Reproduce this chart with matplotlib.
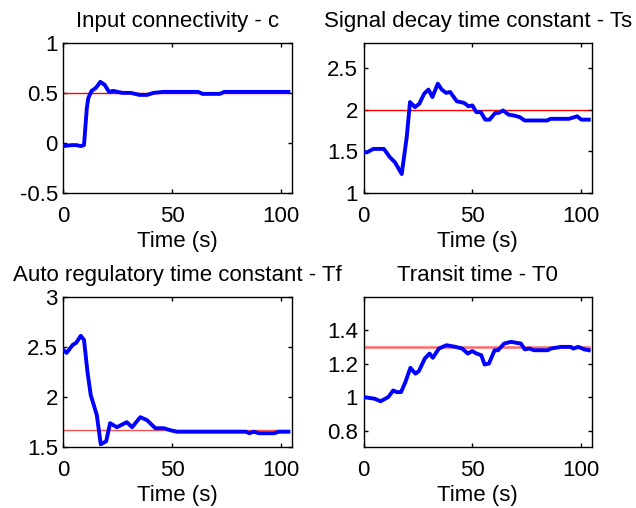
import matplotlib
matplotlib.use("Agg")
import matplotlib.pyplot as plt

plt.rcParams['font.family'] = ['Liberation Sans', 'DejaVu Sans']

# ---- data ----
t_c = [0, 4, 6, 8, 9.5, 10.8, 11.5, 13, 15, 17, 19, 21, 23, 27, 31, 35, 38.5, 41.5,
       46, 54, 62, 64, 72, 74, 80, 90, 103.5]
c_vals = [-0.03, -0.02, -0.02, -0.03, -0.02, 0.35, 0.45, 0.52, 0.55, 0.61, 0.58, 0.51,
          0.52, 0.50, 0.50, 0.48, 0.48, 0.50, 0.51, 0.51, 0.51, 0.49, 0.49, 0.51, 0.51,
          0.51, 0.51]
c_true = 0.5

t_ts = [0, 1.6, 4.4, 9.3, 12.1, 14.4, 17.5, 19.8, 21.3, 23.6, 25.6, 27.8, 29.8, 31.6,
        34.1, 35.9, 37.9, 39.8, 42.8, 46.2, 48.2, 50.0, 51.8, 53.9, 55.9, 57.9, 60.5,
        62, 64.1, 66.7, 69, 71.8, 74, 84.4, 85.9, 94.4, 98.2, 100.1, 103.5]
ts_vals = [1.49, 1.49, 1.53, 1.53, 1.43, 1.37, 1.23, 1.67, 2.09, 2.03, 2.07, 2.19, 2.24,
           2.15, 2.31, 2.24, 2.20, 2.21, 2.10, 2.08, 2.04, 2.05, 1.97, 1.97, 1.88, 1.88,
           1.96, 1.96, 1.99, 1.94, 1.93, 1.91, 1.87, 1.87, 1.89, 1.89, 1.92, 1.88, 1.88]
ts_true = 2.0

t_tf = [0, 1.5, 4.3, 5.9, 8, 9.5, 11.1, 12.6, 15.4, 17.2, 19.7, 21.5, 24.6, 29.2, 31.6,
        35.4, 38.5, 42.3, 46.2, 49.2, 52.3, 84, 85.5, 87.5, 90, 97, 99, 103.5]
tf_vals = [2.47, 2.44, 2.52, 2.54, 2.61, 2.57, 2.25, 2.02, 1.82, 1.53, 1.56, 1.74, 1.70,
           1.75, 1.70, 1.80, 1.77, 1.69, 1.69, 1.67, 1.655, 1.655, 1.64, 1.655, 1.64,
           1.64, 1.655, 1.655]
tf_true = 1.67

t_t0 = [0, 5.1, 7.8, 11.3, 13.6, 15.2, 17.2, 19.2, 21.5, 23.8, 25.4, 28.1, 30.3, 31.8,
        34.6, 38.1, 42.3, 45.3, 47.9, 49.9, 51.9, 54.1, 55.6, 57.6, 60.2, 61.8, 64.6,
        67.7, 72.3, 74.1, 76.1, 78.4, 84.6, 86.1, 90.7, 95.3, 96.4, 98.7, 101.5, 103.5]
t0_vals = [1.0, 0.99, 0.975, 1.0, 1.04, 1.03, 1.03, 1.09, 1.175, 1.14, 1.155, 1.23, 1.26,
           1.235, 1.29, 1.31, 1.30, 1.29, 1.26, 1.275, 1.26, 1.25, 1.195, 1.20, 1.28, 1.28,
           1.32, 1.33, 1.32, 1.285, 1.29, 1.28, 1.28, 1.29, 1.30, 1.30, 1.29, 1.30, 1.285,
           1.28]
t0_true = 1.3

titles = ["Input connectivity - c", "Signal decay time constant - Ts",
          "Auto regulatory time constant - Tf", "Transit time - T0"]
ylims = [(-0.5, 1), (1, 2.8), (1.5, 3), (0.7, 1.6)]
yticks = [[-0.5, 0, 0.5, 1], [1, 1.5, 2, 2.5], [1.5, 2, 2.5, 3], [0.8, 1, 1.2, 1.4]]
yticklabels = [["-0.5", "0", "0.5", "1"], ["1", "1.5", "2", "2.5"],
               ["1.5", "2", "2.5", "3"], ["0.8", "1", "1.2", "1.4"]]
xticks = [0, 50, 100]
t_end = 103.5

series = [(t_c, c_vals, c_true), (t_ts, ts_vals, ts_true),
          (t_tf, tf_vals, tf_true), (t_t0, t0_vals, t0_true)]
red_styles = [("#ff0000", 1.0), ("#ff0000", 1.0), ("#ff5050", 1.0), ("#ff6a6a", 1.8)]

fig = plt.figure(figsize=(6.36, 5.08), dpi=100)
positions = [[0.0996, 0.6195, 0.359, 0.2965], [0.5718, 0.6195, 0.359, 0.2965],
             [0.0996, 0.1195, 0.359, 0.2965], [0.5718, 0.1195, 0.359, 0.2965]]
fs = 16
for i in range(4):
    ax = fig.add_axes(positions[i])
    t, v, tv = series[i]
    col, lw = red_styles[i]
    ax.plot([0, t_end], [tv, tv], color=col, lw=lw, zorder=2)
    ax.plot(t, v, color="#0000ff", lw=2.8, zorder=3, solid_joinstyle='round')
    ax.set_xlim(0, 105)
    ax.set_ylim(*ylims[i])
    ax.set_xticks(xticks)
    ax.set_xticklabels([str(x) for x in xticks])
    ax.set_yticks(yticks[i])
    ax.set_yticklabels(yticklabels[i])
    ax.tick_params(direction='in', top=True, right=True, length=3, width=1,
                   labelsize=fs, colors='black')
    ax.tick_params(axis='x', pad=9)
    ax.tick_params(axis='y', pad=4)
    for s in ax.spines.values():
        s.set_linewidth(1.0)
    ax.set_title(titles[i], fontsize=fs, pad=11)
    ax.set_xlabel("Time (s)", fontsize=fs, labelpad=3)

fig.savefig("out.png", dpi=100, facecolor='white')
